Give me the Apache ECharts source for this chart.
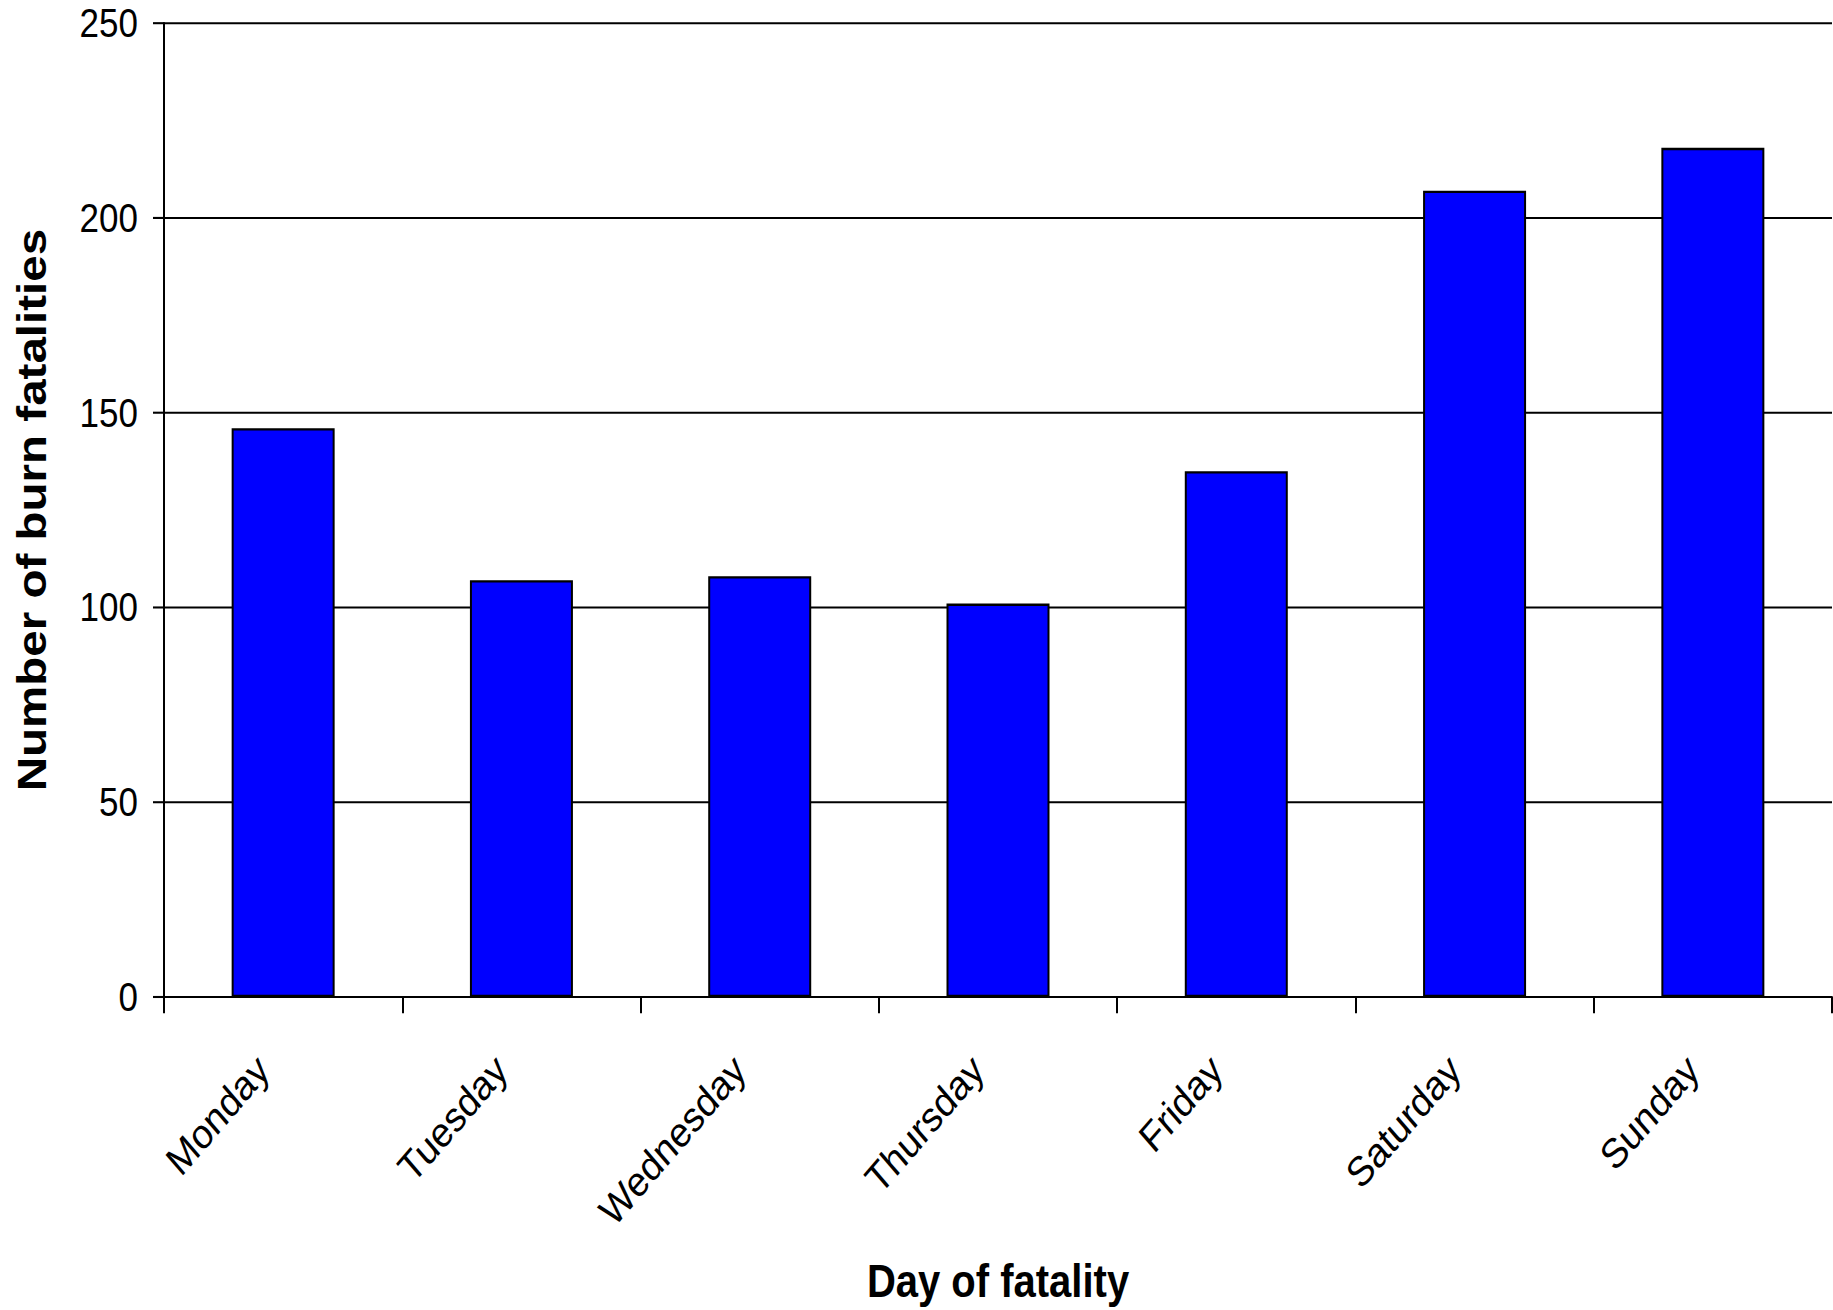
<!DOCTYPE html>
<html>
<head>
<meta charset="utf-8">
<title>Burn fatalities by day</title>
<script src="https://cdn.jsdelivr.net/npm/echarts@6/dist/echarts.min.js"></script>
<style>
  html, body { margin: 0; padding: 0; background: #fff; overflow: hidden; }
  #wrap { width: 1833px; height: 1310px; overflow: hidden; }
  /* chart is laid out at a shorter height and stretched vertically */
  #chart { width: 1833px; height: 1130px; transform: scale(1, 1.15929); transform-origin: 0 0; }
</style>
</head>
<body>
<div id="wrap"><div id="chart"></div></div>
<script>
const days = ['Monday', 'Tuesday', 'Wednesday', 'Thursday', 'Friday', 'Saturday', 'Sunday'];
const fatalities = [146, 107, 108, 101, 135, 207, 218];
const yTicks = { min: 0, max: 250, step: 50 };

const FONT = '"Liberation Sans", Arial, Helvetica, sans-serif';

const chart = echarts.init(document.getElementById('chart'), null, { renderer: 'svg' });
chart.setOption({
  animation: false,
  backgroundColor: '#ffffff',
  grid: { left: 164, right: 1, top: 20, bottom: 268, containLabel: false },
  xAxis: {
    type: 'category',
    data: days,
    boundaryGap: true,
    name: 'Day of fatality',
    nameLocation: 'middle',
    nameGap: 225,
    nameTextStyle: { fontFamily: FONT, fontSize: 40, fontWeight: 'bold', color: '#000' },
    axisLine: { show: true, lineStyle: { color: '#000', width: 1.8 } },
    axisTick: { show: true, length: 14, lineStyle: { color: '#000', width: 2 } },
    axisLabel: { rotate: 45, margin: 36, padding: [0, 29, 0, 0], fontFamily: FONT, fontSize: 36, color: '#000', interval: 0 },
    splitLine: { show: false }
  },
  yAxis: {
    type: 'value',
    min: yTicks.min,
    max: yTicks.max,
    interval: yTicks.step,
    name: 'Number of burn fatalities',
    nameLocation: 'middle',
    nameRotate: 90,
    nameGap: 112,
    nameTextStyle: { fontFamily: FONT, fontSize: 41, fontWeight: 'bold', color: '#000' },
    axisLine: { show: true, lineStyle: { color: '#000', width: 2 } },
    axisTick: { show: true, length: 11, lineStyle: { color: '#000', width: 1.8 } },
    axisLabel: { margin: 26, fontFamily: FONT, fontSize: 35, color: '#000' },
    splitLine: { show: true, lineStyle: { color: '#000', width: 1.8 } }
  },
  series: [{
    type: 'bar',
    data: fatalities,
    barWidth: 103,
    itemStyle: { color: '#0000ff', borderColor: '#000', borderWidth: 2 }
  }]
});
</script>
</body>
</html>
